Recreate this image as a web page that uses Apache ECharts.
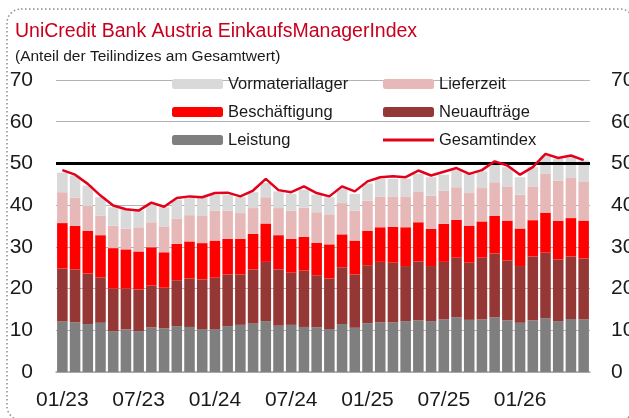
<!DOCTYPE html>
<html>
<head>
<meta charset="utf-8">
<script src="https://cdn.jsdelivr.net/npm/echarts@6/dist/echarts.min.js"></script>
<style>
  html, body { margin: 0; padding: 0; background: #fff; }
  #chart { width: 629px; height: 418px; }
</style>
</head>
<body>
<div id="chart"></div>
<script>
// Monate 01/23 .. 06/26
const months = [
  '01/23','02/23','03/23','04/23','05/23','06/23','07/23','08/23','09/23','10/23','11/23','12/23',
  '01/24','02/24','03/24','04/24','05/24','06/24','07/24','08/24','09/24','10/24','11/24','12/24',
  '01/25','02/25','03/25','04/25','05/25','06/25','07/25','08/25','09/25','10/25','11/25','12/25',
  '01/26','02/26','03/26','04/26','05/26','06/26'
]

// Teilindizes (Anteil am Gesamtwert)
const leistung = [12.1,11.9,11.5,11.8,9.8,10.2,9.8,10.7,10.5,11.0,10.8,10.3,10.3,11.0,11.3,11.6,12.2,11.1,11.3,10.8,10.7,
  10.3,11.5,10.6,11.7,11.9,11.9,12.2,12.4,12.2,12.6,13.1,12.5,12.6,13.1,12.4,11.8,12.4,12.9,12.2,12.7,12.6]
const neuauftraege = [12.7,12.7,12.1,10.9,10.2,9.8,10.0,10.0,9.7,11.0,11.6,11.9,12.3,12.4,12.1,13.0,14.2,13.5,12.5,13.5,12.5,
  12.1,13.6,12.8,13.9,14.5,14.3,13.2,14.1,13.2,13.8,14.3,13.7,14.8,15.3,14.3,13.6,15.3,15.7,14.8,15.0,14.6]
const beschaeftigung = [10.9,10.4,10.2,10.1,9.7,9.4,9.1,9.2,8.5,8.7,8.9,8.7,8.9,8.5,8.5,8.5,9.2,8.2,8.1,8.1,7.8,
  8.2,7.9,8.1,8.2,8.3,8.6,9.3,9.4,8.9,9.1,9.1,8.9,8.7,9.0,9.6,9.0,8.7,9.6,9.2,9.2,9.1]
const lieferzeit = [7.4,6.8,6.0,4.7,5.4,5.0,5.8,6.0,6.2,6.1,6.3,6.5,7.2,6.8,6.2,6.2,6.3,6.5,6.8,7.0,7.3,
  7.2,7.5,7.2,7.3,7.4,7.3,7.4,7.4,8.0,8.0,7.8,7.8,8.0,8.1,8.2,8.1,8.1,9.3,9.7,9.6,9.4]
const vormaterial = [4.7,5.3,4.9,4.4,4.4,4.6,4.0,4.4,4.6,4.5,4.1,4.5,3.8,3.8,3.8,3.8,3.4,4.0,4.0,4.3,4.2,
  4.1,3.6,4.0,4.1,4.2,4.2,4.2,4.2,4.4,3.8,4.1,4.6,4.0,4.5,4.6,4.2,4.6,4.4,5.2,5.0,5.0]
const gesamtindex = [48.4,47.3,45.1,42.3,39.9,39.0,38.7,40.6,39.6,41.7,42.1,41.9,42.9,43.0,42.1,43.5,46.3,43.6,43.1,44.5,42.9,
  42.1,44.5,43.3,45.7,46.7,46.9,46.7,48.3,47.1,48.0,48.9,47.5,48.4,50.5,49.5,47.3,49.1,52.3,51.3,51.9,50.8]

const yTicks = [0, 70, 10]  // min, max, interval

const font = 'Liberation Sans, Arial, sans-serif'
const labelFont = { fontFamily: font, fontSize: 21, color: '#1a1a1a' }
const legendText = { fontFamily: font, fontSize: 16.5, lineHeight: 18, color: '#1a1a1a' }

let chart = echarts.init(document.getElementById('chart'))

function bar(name, data, color) {
  return {
    name: name,
    type: 'bar',
    stack: 'teil',
    data: data,
    barCategoryGap: '17%',
    itemStyle: { color: color },
    emphasis: { disabled: true }
  }
}

chart.setOption({
  animation: false,
  title: [
    {
      text: 'UniCredit Bank Austria EinkaufsManagerIndex',
      left: 15, top: 22, padding: 0,
      textStyle: { fontFamily: font, fontSize: 19.5, fontWeight: 'normal', color: '#c8001e' }
    },
    {
      text: '(Anteil der Teilindizes am Gesamtwert)',
      left: 15, top: 49, padding: 0,
      textStyle: { fontFamily: font, fontSize: 15.5, fontWeight: 'normal', color: '#1a1a1a' }
    }
  ],
  // gepunkteter Rahmen
  graphic: [{
    type: 'rect',
    silent: true,
    shape: { x: 7, y: 9, width: 627, height: 411, r: 14 },
    style: { fill: 'none', stroke: '#8c8c8c', lineWidth: 1.5, lineDash: [1.5, 2.5] }
  }],
  legend: [
    {
      orient: 'vertical', left: 172, top: 75, padding: 0,
      itemWidth: 51, itemHeight: 10, itemGap: 10,
      textStyle: legendText,
      data: ['Vormateriallager', 'Beschäftigung', 'Leistung']
    },
    {
      orient: 'vertical', left: 383, top: 75, padding: 0,
      itemWidth: 51, itemHeight: 10, itemGap: 10,
      textStyle: legendText,
      data: ['Lieferzeit', 'Neuaufträge',
        { name: 'Gesamtindex', icon: 'path://M0,0 L51,0 L51,2.8 L0,2.8 Z' }]
    }
  ],
  // rechte Achsenbeschriftung wird im Original abgeschnitten
  grid: { left: 56, right: 39, top: 80, bottom: 46, containLabel: false, outerBoundsMode: 'none' },
  xAxis: {
    type: 'category',
    data: months,
    axisTick: { show: false },
    axisLine: { lineStyle: { color: '#a6a6a6', width: 1.5 } },
    axisLabel: Object.assign({ interval: 5, margin: 18 }, labelFont)
  },
  yAxis: [
    {
      type: 'value', min: yTicks[0], max: yTicks[1], interval: yTicks[2],
      axisLabel: Object.assign({ margin: 23 }, labelFont),
      splitLine: { lineStyle: { color: '#b3b3b3', width: 1 } }
    },
    {
      type: 'value', min: yTicks[0], max: yTicks[1], interval: yTicks[2],
      position: 'right',
      axisLabel: Object.assign({ margin: 21 }, labelFont),
      splitLine: { show: false }
    }
  ],
  series: [
    bar('Leistung', leistung, '#7f7f7f'),
    bar('Neuaufträge', neuauftraege, '#953735'),
    bar('Beschäftigung', beschaeftigung, '#ff0000'),
    bar('Lieferzeit', lieferzeit, '#e6b9b8'),
    bar('Vormateriallager', vormaterial, '#d9d9d9'),
    {
      name: 'Gesamtindex',
      type: 'line',
      data: gesamtindex,
      symbol: 'none',
      z: 5,
      lineStyle: { color: '#e2001a', width: 2.5 },
      itemStyle: { color: '#e2001a' },
      emphasis: { disabled: true },
      // 50er Schwelle
      markLine: {
        silent: true,
        symbol: 'none',
        label: { show: false },
        lineStyle: { color: '#000', width: 3, type: 'solid' },
        data: [{ yAxis: 50 }]
      }
    }
  ]
})
</script>
</body>
</html>
